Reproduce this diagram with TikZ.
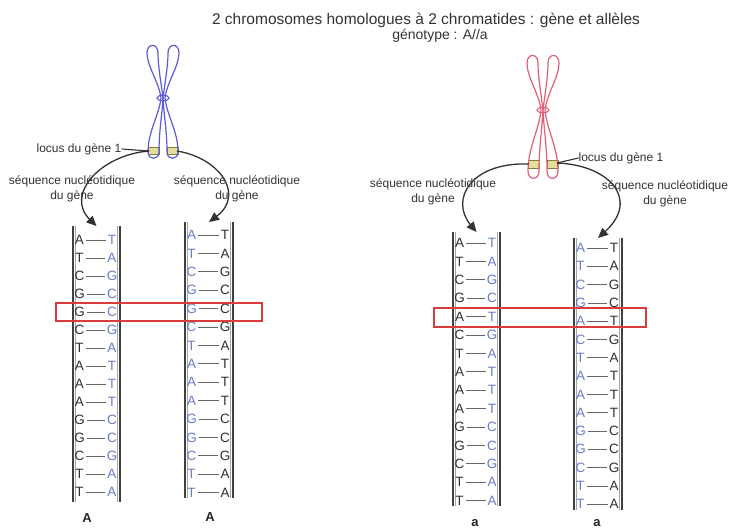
\documentclass[tikz,border=0pt]{standalone}
\usepackage{fontspec}
\setmainfont{Liberation Sans}
\usetikzlibrary{arrows.meta}

\definecolor{chrblue}{HTML}{5B5BD6}
\definecolor{chrred}{HTML}{E0607A}
\definecolor{basblue}{HTML}{6A7CC8}
\definecolor{basdark}{HTML}{303030}
\definecolor{boxred}{HTML}{D83C3C}
\definecolor{locfill}{HTML}{E6DC9C}
\definecolor{locline}{HTML}{808040}

% one chromatid: #1 upper arm length, #2 lower arm length, #3 colour,
% #4/#5 top and bottom of the locus band (below the centromere)
\newcommand{\chromatid}[5]{%
  \filldraw[fill=locfill, draw=locline, line width=0.9pt] (-15,#4) rectangle (-4,#5);
  \draw[#3, line width=1.2pt]
    (0,0) .. controls (-2,{-0.3*#1}) and (-5,{-0.6*#1}) .. (-5,{-0.85*#1})
    .. controls (-5,{-1.04*#1}) and (-16,{-1.04*#1}) .. (-16,{-0.85*#1})
    .. controls (-16,{-0.6*#1}) and (-4,{-0.3*#1}) .. (-2,0)
    .. controls (-4,{0.3*#2}) and (-15,{0.55*#2}) .. (-15,{0.9*#2})
    .. controls (-15,{1.04*#2}) and (-4,{1.04*#2}) .. (-4,{0.9*#2})
    .. controls (-4,{0.55*#2}) and (-1,{0.3*#2}) .. (0,0) -- cycle;}

% a chromosome with two sister chromatids crossing at the centromere
% #1 x, #2 y of the centromere, #3 upper length, #4 lower length, #5 colour, #6/#7 locus band
\newcommand{\chromosomeX}[7]{%
  \begin{scope}[shift={(#1,#2)}]
    \chromatid{#3}{#4}{#5}{#6}{#7}
    \begin{scope}[xscale=-1]
      \chromatid{#3}{#4}{#5}{#6}{#7}
    \end{scope}
    \draw[#5, line width=1.1pt] (0,0) ellipse [x radius=6, y radius=2.8];
  \end{scope}}

% a double-stranded DNA ladder
% #1 name, #2 left strand x, #3 right strand x, #4 strand top, #5 strand bottom,
% #6 first pair y, #7 pair step, #8 colouring (blackfirst/bluefirst), #9 base pairs
\newcommand{\dnaladder}[9]{%
  \coordinate (#1-top) at ({(#2+#3)/2},#4);
  \draw[strand] (#2,#4) -- (#2,#5);
  \draw[strandin] ({#2+2.3},#4) -- ({#2+2.3},#5);
  \draw[strand] (#3,#4) -- (#3,#5);
  \draw[strandin] ({#3-2.3},#4) -- ({#3-2.3},#5);
  \foreach \l/\r [count=\i from 0] in {#9} {
    \node[#8-l] (#1-l\i) at ({#2+6.5},{#6+\i*#7}) {\l};
    \node[#8-r] (#1-r\i) at ({#3-8},{#6+\i*#7}) {\r};
    \draw[bond] (#1-l\i) -- (#1-r\i);
  }}

\begin{document}
\begin{tikzpicture}[x=1pt, y=-1pt,
  title/.style={font=\fontsize{15.5}{18}\selectfont, text=black!80, inner sep=0},
  subtitle/.style={font=\fontsize{14}{16}\selectfont, text=black!80, inner sep=0},
  lab/.style={font=\fontsize{12}{15}\selectfont, text=black!80, align=center, inner sep=0},
  base/.style={font=\fontsize{13.5}{14}\selectfont, inner sep=0.3pt},
  dk/.style={base, text=basdark},
  bl/.style={base, text=basblue},
  blackfirst-l/.style={dk}, blackfirst-r/.style={bl},
  bluefirst-l/.style={bl},  bluefirst-r/.style={dk},
  bond/.style={draw=black!60, line width=0.8pt, shorten <=1.5pt, shorten >=1.5pt},
  strand/.style={draw=black!75, line width=1.2pt},
  strandin/.style={draw=black!35, line width=0.7pt},
  genearrow/.style={draw=black!80, line width=1.3pt, -{Triangle[length=10pt,width=9pt]}},
  locusline/.style={draw=black!80, line width=1.1pt},
  redbox/.style={draw=boxred, line width=1.1pt, inner sep=0},
  allele/.style={font=\bfseries\fontsize{13}{14}\selectfont, text=black!85, inner sep=0},
]
\useasboundingbox[fill=white] (0,0) rectangle (733,529);

% heading
\node[title] (title) at (426,20) {2 chromosomes homologues à 2 chromatides : gène et allèles};
\node[subtitle] (genotype) at (440,36) {génotype : A//a};

% the two homologous chromosomes
\chromosomeX{163}{98}{53}{60}{chrblue}{49}{56}
\chromosomeX{543}{110}{55}{68}{chrred}{50}{58}

% points where the locus leaves each chromatid
\coordinate (locL1) at (149,151);
\coordinate (locL2) at (177,151);
\coordinate (locR1) at (529,164);
\coordinate (locR2) at (557,163);

% labels
\node[lab] (locusA) at (79,149) {locus du gène 1};
\node[lab] (seqA1) at (72,189) {séquence nucléotidique\\du gène};
\node[lab] (seqA2) at (237,189) {séquence nucléotidique\\du gène};
\node[lab] (locusa) at (621,158) {locus du gène 1};
\node[lab] (seqa1) at (433,192) {séquence nucléotidique\\du gène};
\node[lab] (seqa2) at (665,194) {séquence nucléotidique\\du gène};

% DNA of each chromatid
\dnaladder{ladA1}{73}{120}{226}{502}{240}{18}{blackfirst}%
  {A/T,T/A,C/G,G/C,G/C,C/G,T/A,A/T,A/T,A/T,G/C,G/C,C/G,T/A,T/A}
\dnaladder{ladA2}{185}{233}{222}{498}{235}{18.4}{bluefirst}%
  {A/T,T/A,C/G,G/C,G/C,C/G,T/A,A/T,A/T,A/T,G/C,G/C,C/G,T/A,T/A}
\dnaladder{lada1}{453}{500}{232}{506}{243}{18.4}{blackfirst}%
  {A/T,T/A,C/G,G/C,A/T,C/G,T/A,A/T,A/T,A/T,G/C,G/C,C/G,T/A,T/A}
\dnaladder{lada2}{574}{622}{238}{510}{248}{18.3}{bluefirst}%
  {A/T,T/A,C/G,G/C,A/T,C/G,T/A,A/T,A/T,A/T,G/C,G/C,C/G,T/A,T/A}

% the differing base pair
\node[redbox, minimum width=206pt, minimum height=18pt] (diffA) at (159,312) {};
\node[redbox, minimum width=212pt, minimum height=19pt] (diffa) at (540,317.5) {};

% locus pointers and arrows to the sequences
\draw[locusline] (locusA.east) -- (locL1);
\draw[locusline] (locR2) -- (locusa.west);
\draw[genearrow] (locL1) .. controls (100,155) and (65,195) .. (ladA1-top);
\draw[genearrow] (locL2) .. controls (220,158) and (245,195) .. (ladA2-top);
\draw[genearrow] (locR1) .. controls (470,162) and (450,200) .. (lada1-top);
\draw[genearrow] (locR2) .. controls (610,165) and (640,200) .. (lada2-top);

% alleles
\node[allele] (alA1) at (87,518) {A};
\node[allele] (alA2) at (210,517) {A};
\node[allele] (ala1) at (475,523) {a};
\node[allele] (ala2) at (597,523) {a};
\end{tikzpicture}
\end{document}
